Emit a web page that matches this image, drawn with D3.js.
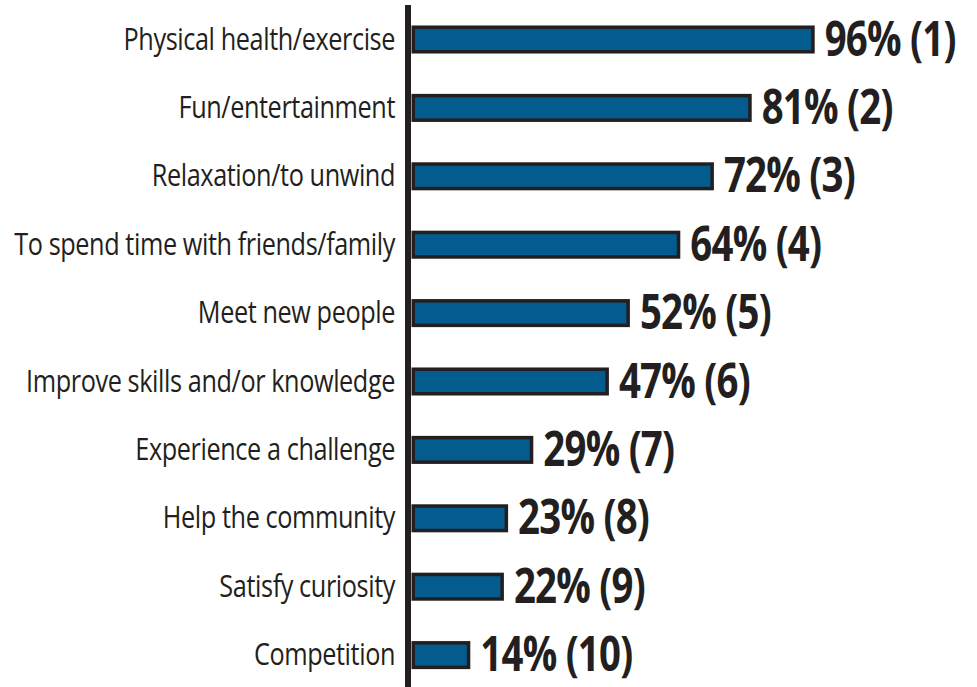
<!DOCTYPE html>
<html>
<head>
<meta charset="utf-8">
<script src="https://cdn.jsdelivr.net/npm/d3@7"></script>
<style>
  html, body { margin: 0; padding: 0; background: #ffffff; }
  svg { display: block; }
</style>
</head>
<body>
<svg id="chart" width="977" height="687"></svg>
<script>
// ---- data ----
const categories = [
  "Physical health/exercise",
  "Fun/entertainment",
  "Relaxation/to unwind",
  "To spend time with friends/family",
  "Meet new people",
  "Improve skills and/or knowledge",
  "Experience a challenge",
  "Help the community",
  "Satisfy curiosity",
  "Competition"
];
const values = [96, 81, 72, 64, 52, 47, 29, 23, 22, 14];
const ranks = [1, 2, 3, 4, 5, 6, 7, 8, 9, 10];

// ---- layout ----
const W = 977, H = 687;
const axisX = 408;
const x0 = 411.5;
const svg = d3.select("#chart");

const x = d3.scaleLinear().domain([0, 100]).range([x0, x0 + 420]);
const y = d3.scaleBand().domain(categories).range([5.3, 689.3])
  .paddingInner(0.59).paddingOuter(0.295);

const barFill = "#035b8e";
const stroke = "#231f20";
const sw = 3.5;

const fontCat = "'Open Sans', 'DejaVu Sans Condensed', sans-serif";

// bars
svg.append("g").selectAll("rect").data(values).enter().append("rect")
  .attr("x", x(0) + sw / 2)
  .attr("y", (d, i) => y(categories[i]) + sw / 2)
  .attr("width", d => x(d) - x(0) - sw)
  .attr("height", y.bandwidth() - sw)
  .attr("fill", barFill)
  .attr("stroke", stroke)
  .attr("stroke-width", sw);

// axis line
svg.append("line")
  .attr("x1", axisX).attr("x2", axisX)
  .attr("y1", 5).attr("y2", H)
  .attr("stroke", stroke).attr("stroke-width", 6);

// category labels
const catText = svg.append("g").selectAll("text").data(categories).enter().append("text")
  .attr("text-anchor", "end")
  .attr("font-family", fontCat)
  .attr("font-size", 31)
  .attr("letter-spacing", -0.5)
  .attr("fill", stroke)
  .text(d => d);

// value labels
const valText = svg.append("g").selectAll("text").data(values).enter().append("text")
  .attr("text-anchor", "start")
  .attr("font-family", fontCat)
  .attr("font-weight", 700)
  .attr("font-size", 49)
  .attr("letter-spacing", -1)
  .attr("fill", stroke)
  .text((d, i) => d + "% (" + ranks[i] + ")");

// horizontal compression to mimic a condensed face
function fit(sel, targetW, refIndex) {
  const node = sel.nodes()[refIndex];
  const w = node.getComputedTextLength();
  return Math.min(1.2, targetW / w);
}
const catScale = fit(catText, 381, 3);
const valScale = fit(valText, 131, 0);

catText.attr("transform", d => {
  const cy = y(d) + y.bandwidth() / 2 + 10;
  return `translate(395,${cy}) scale(${catScale},1)`;
});
valText.attr("transform", (d, i) => {
  const cy = y(categories[i]) + y.bandwidth() / 2 + 16;
  return `translate(${x(d) + 10},${cy}) scale(${valScale},1)`;
});
</script>
</body>
</html>
